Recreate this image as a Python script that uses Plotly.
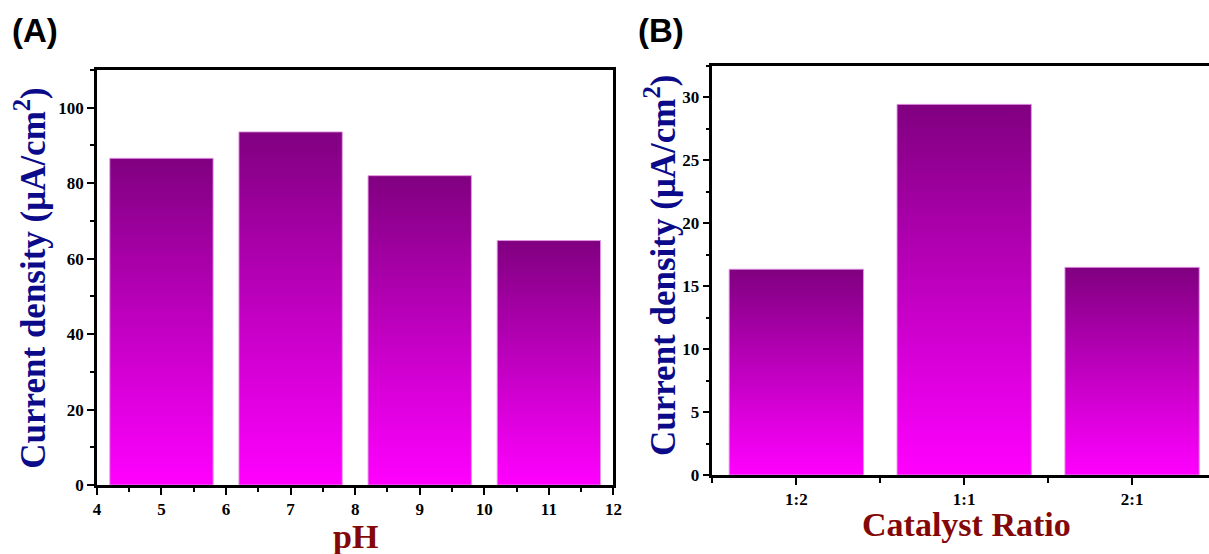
import plotly.graph_objects as go

# Panel A: current density vs pH
ph_values = [5, 7, 9, 11]
ph_density = [86.6, 93.6, 82.0, 64.8]

# Panel B: current density vs catalyst ratio
ratio_labels = ["1:2", "1:1", "2:1"]
ratio_density = [16.35, 29.45, 16.5]

BAR_W_A = 1.6
BAR_W_B = 0.8
GRADIENT = [[0.0, "#ff00ff"], [1.0, "#800080"]]
EDGE = "rgba(225,150,225,0.9)"
SERIF = "Liberation Serif, Times New Roman, serif"
TITLE_BLUE = "#0b0b8a"
TITLE_RED = "#840808"

fig = go.Figure()


def gradient_bar(xc, val, width, xref, yref):
    """A bar drawn as a filled rectangle with a vertical colour gradient."""
    x0, x1 = xc - width / 2, xc + width / 2
    return go.Scatter(
        x=[x0, x0, x1, x1, x0],
        y=[0, val, val, 0, 0],
        xaxis=xref,
        yaxis=yref,
        mode="lines",
        fill="toself",
        fillgradient=dict(type="vertical", colorscale=GRADIENT),
        line=dict(color=EDGE, width=1),
        hoverinfo="text",
        text=f"{val}",
        showlegend=False,
    )


for x, v in zip(ph_values, ph_density):
    fig.add_trace(gradient_bar(x, v, BAR_W_A, "x", "y"))

ratio_pos = list(range(1, len(ratio_labels) + 1))
for x, v in zip(ratio_pos, ratio_density):
    fig.add_trace(gradient_bar(x, v, BAR_W_B, "x2", "y2"))

tickfont = dict(family=SERIF, size=17, color="black", weight="bold")
common = dict(
    showline=True,
    linecolor="black",
    linewidth=2.5,
    ticks="outside",
    ticklen=7,
    tickwidth=2,
    tickcolor="black",
    tickfont=tickfont,
    showgrid=False,
    zeroline=False,
    fixedrange=True,
)

fig.update_layout(
    width=1221,
    height=564,
    margin=dict(l=0, r=0, t=0, b=0),
    paper_bgcolor="white",
    plot_bgcolor="white",
    xaxis=dict(
        **common,
        domain=[0.0769, 0.5045],
        anchor="y",
        range=[4, 12],
        dtick=1,
        mirror=True,
        minor=dict(dtick=0.5, ticks="outside", ticklen=4, tickwidth=2, tickcolor="black"),
    ),
    yaxis=dict(
        **common,
        domain=[0.1245, 0.8736],
        anchor="x",
        range=[0, 110],
        tickvals=[0, 20, 40, 60, 80, 100],
        mirror=True,
        minor=dict(dtick=10, ticks="outside", ticklen=4, tickwidth=2, tickcolor="black"),
    ),
    xaxis2=dict(
        **common,
        domain=[0.5864, 1.0],
        anchor="y2",
        range=[0.5, 3.476],
        tickvals=ratio_pos,
        ticktext=ratio_labels,
        mirror=True,
        minor=dict(tickvals=[0.5, 1.5, 2.5], ticks="outside", ticklen=5, tickwidth=2, tickcolor="black"),
    ),
    yaxis2=dict(
        **common,
        domain=[0.1426, 0.8809],
        anchor="x2",
        range=[0, 32.5],
        tickvals=[0, 5, 10, 15, 20, 25, 30],
        minor=dict(dtick=2.5, ticks="outside", ticklen=4, tickwidth=2, tickcolor="black"),
    ),
)

ytitle = "Current density (μA/cm<sup>2</sup>)"
title_font_y = dict(family=SERIF, size=35, color=TITLE_BLUE)
title_font_x = dict(family=SERIF, size=34, color=TITLE_RED)

annotations = [
    dict(text="<b>(A)</b>", x=0.005, y=0.945, xanchor="left", yanchor="middle",
         font=dict(family="Liberation Sans, Arial, sans-serif", size=33, color="black")),
    dict(text="<b>(B)</b>", x=0.523, y=0.945, xanchor="left", yanchor="middle",
         font=dict(family="Liberation Sans, Arial, sans-serif", size=33, color="black")),
    dict(text=f"<b>{ytitle}</b>", x=0.022, y=0.498, textangle=-90,
         xanchor="center", yanchor="middle", font=title_font_y),
    dict(text=f"<b>{ytitle}</b>", x=0.544, y=0.52, textangle=-90,
         xanchor="center", yanchor="middle", font=title_font_y),
    dict(text="<b>pH</b>", x=0.291, y=0.031, xanchor="center", yanchor="middle", font=title_font_x),
    dict(text="<b>Catalyst Ratio</b>", x=0.7965, y=0.053, xanchor="center", yanchor="middle",
         font=title_font_x),
]
for a in annotations:
    a.update(xref="paper", yref="paper", showarrow=False)
fig.update_layout(annotations=annotations)

fig.write_html("out.html")
